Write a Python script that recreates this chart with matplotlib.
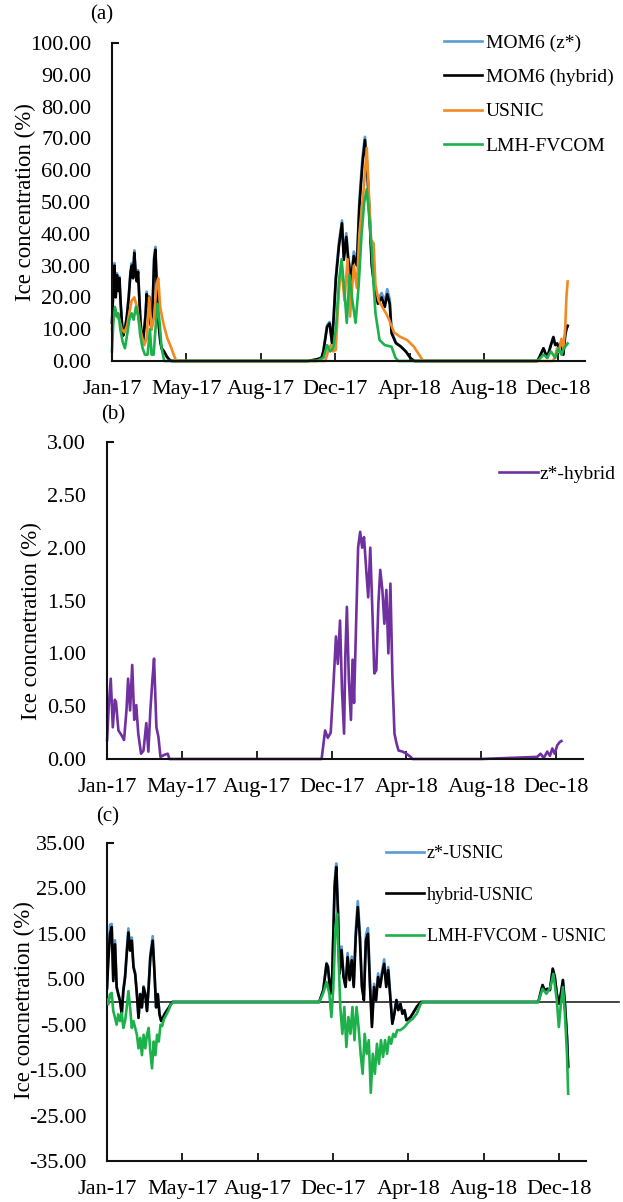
import matplotlib
matplotlib.use("Agg")
import matplotlib.pyplot as plt
import numpy as np
import pandas as pd

plt.rcParams['font.family'] = ['Liberation Serif', 'DejaVu Serif']

START = pd.Timestamp('2017-01-01')
tick_days = [0, 120, 240, 360, 480, 600, 720]
x_max_day = 763

# ---------------- Panel (a): ice concentration (%) ----------------
a_hyb_days = [0, 2, 4, 6, 8, 10, 12, 14, 16, 18, 21, 24, 27, 30, 32, 34, 36, 38, 40, 42, 44, 46, 48,
              50, 52, 54, 56, 58, 60, 62, 64, 66, 68, 70, 72, 74, 76, 78, 80, 84, 88, 92, 96,
              200, 316, 330, 338, 341, 347, 351, 355, 358, 361, 366, 371, 374, 378, 381, 386, 390,
              395, 399, 404, 408, 412, 416, 419, 424, 429, 435, 440, 444, 448, 451, 458, 466, 474,
              482, 488, 600, 686, 689, 696, 702, 708, 712, 715, 718, 721, 725, 728, 731, 733, 735]
a_hybrid = [12, 22, 30, 20, 27, 22, 26, 18, 12, 8, 10, 14, 20, 28, 30, 26, 34, 28, 25, 28, 20, 12, 8,
            6, 10, 14, 21, 17, 20, 12, 10, 20, 32, 35, 25, 15, 10, 6, 4, 3, 1.5, 0.5, 0,
            0, 0, 0.5, 1, 3, 10.8, 11.8, 5.6, 15, 25.5, 36, 43.3, 31.8, 39, 31.8, 25.5, 33,
            30, 48.5, 62, 69.5, 59, 43, 30, 22, 18, 20, 17, 21, 18, 8.7, 5.6, 4.5, 3,
            0.8, 0, 0, 0, 1, 4, 1, 5, 7.5, 5, 5.5, 4, 6, 2, 8, 10, 11]
a_zstar = [12.2, 22.5, 30.8, 20.3, 27.6, 22.4, 26.5, 18.3, 12.2, 8.1, 10.2, 14.4, 20.6, 28.7, 30.8, 26.5, 34.8, 28.5, 25.3, 28.6, 20.4, 12.2, 8.1,
           6.1, 10.3, 14.5, 21.8, 17.3, 20.4, 12.2, 10.2, 20.6, 32.8, 35.9, 25.4, 15.2, 10.1, 6.1, 4, 3, 1.5, 0.5, 0,
           0, 0, 0.5, 1, 3.2, 11.2, 12.3, 5.8, 15.8, 26.5, 37.2, 44.2, 32.8, 40.2, 33, 26.2, 34.4,
           31.2, 50.5, 64, 70.5, 60.5, 44.5, 31.2, 23.3, 19.4, 21.4, 18.6, 22.6, 19.4, 9.3, 5.8, 4.6, 3,
           0.8, 0, 0, 0, 1, 4, 1, 5.1, 7.6, 5.1, 5.6, 4.1, 6.1, 2.1, 8.1, 10.1, 11.2]
a_usnic_days = [0, 3.8, 8, 11.8, 15.6, 19.9, 24.2, 27.9, 31.7, 36, 40.3, 44, 47.8, 52, 55.8, 60, 63.8,
                68.1, 71.9, 74.6, 77.8, 81.6, 85.3, 89.6, 93.9, 97.7, 101.4, 104,
                200, 344, 350, 353, 357, 361, 366, 370, 375, 380, 384, 390, 395,
                399, 406, 411, 415, 418, 422, 425, 430, 436, 442, 447, 455, 465,
                476, 487, 494, 502, 600, 711, 714, 718, 721, 725, 728, 731, 733, 735]
a_usnic = [10, 15, 14, 13, 10, 9, 11, 15, 19, 20, 17, 12, 8, 5, 7, 20, 10,
           14, 24, 26, 17, 13, 10, 7, 5, 3, 1, 0,
           0, 0, 4, 5, 3, 3.5, 22, 30, 19, 32, 14, 30, 23,
           40, 54, 67, 50, 38, 37, 24, 19, 17, 15, 13, 9, 7.6,
           6.6, 4.5, 2.4, 0, 0, 0, 1, 4, 3, 7, 4, 10, 20, 25]
a_fvcom_days = [0, 2.1, 4.8, 8, 10.2, 13.4, 17.2, 20.9, 24.2, 27.9, 31.7, 34.9, 38.6, 42.4, 45.6,
                49.4, 53.1, 57.4, 61.2, 63.8, 67.1, 70.9, 73.5, 76.8, 80, 84.3,
                200, 330, 341, 347, 352, 357, 362, 366, 370.4, 374.9, 378.7, 383.3, 387.8, 392.9,
                398, 402.6, 407, 411, 415, 418.7, 422, 425, 431.6, 440, 450.9, 457.3, 462,
                600, 686, 689, 696, 702, 708, 715, 720, 725, 729, 733, 735]
a_fvcom = [3, 12, 17, 14, 15, 10, 6, 4, 8, 13, 15, 13, 17, 14, 8,
           4, 2, 2, 10, 2, 2, 12, 18, 12, 4, 0,
           0, 0, 1, 5, 3, 4, 12, 25, 32, 22, 12, 27, 19, 12,
           24, 40, 50, 54, 45, 36, 24, 15, 6.6, 5, 4.5, 1, 0,
           0, 0, 0.5, 2, 1, 3, 1, 4, 2, 4, 5, 5.5]
a_labels = ['MOM6 (z*)', 'MOM6 (hybrid)', 'USNIC', 'LMH-FVCOM']
a_yticks = np.arange(0, 101, 10)

# ---------------- Panel (b): z* - hybrid ----------------
b_days = [0.2, 2.8, 6, 9.3, 12.5, 14.4, 18.3, 22.8, 27.3, 31.2, 33.8, 37, 40.4, 43.7, 46.9, 50.1,
          54.6, 58.5, 63, 66.3, 69.5, 72.8, 75.4, 79.2, 82.4, 85.7, 92.2, 97.4, 100,
          200, 344, 349.6, 354, 358.6, 362.5, 367, 370, 373.5, 376.7, 380, 382, 384.5, 387.7,
          391, 393.6, 396, 399.3, 402.5, 405.8, 409, 412, 415.5, 418.7, 422, 425, 428.5,
          431.7, 435, 438, 441.4, 444.6, 447.8, 451, 454.3, 457.5, 460.8, 464, 467.3, 473.7,
          480, 486.7, 490, 600, 689.5, 695, 700, 705.7, 710, 713.8, 717.5, 721.8, 725.7, 728.4]
b_zhyb = [0.18, 0.5, 0.76, 0.3, 0.56, 0.54, 0.27, 0.23, 0.18, 0.46, 0.76, 0.46, 0.89, 0.37, 0.51, 0.24,
          0.05, 0.08, 0.34, 0.07, 0.46, 0.75, 0.95, 0.3, 0.21, 0.02, 0.04, 0.05, 0,
          0, 0, 0.27, 0.2, 0.25, 0.65, 1.16, 0.9, 1.31, 0.65, 0.24, 0.97, 1.44, 0.75,
          0.37, 0.94, 0.53, 1.28, 2.0, 2.15, 2.0, 2.1, 1.79, 1.53, 2.0, 1.47, 0.81,
          0.84, 1.47, 1.79, 1.6, 1.28, 1.6, 1.0, 1.66, 0.78, 0.24, 0.15, 0.08, 0.07,
          0.05, 0.02, 0, 0, 0.02, 0.05, 0.01, 0.07, 0.03, 0.1, 0.05, 0.13, 0.16, 0.17]
b_labels = ['z*-hybrid']
b_yticks = np.arange(0, 3.01, 0.5)

# ---------------- Panel (c): differences ----------------
c_hyb_days = [0, 2.1, 4.8, 7.5, 10, 12.8, 15.4, 18, 20.8, 23.5, 26, 28.8, 31.4, 34.1, 36.8, 39.5,
              42.2, 44.9, 47.6, 50.2, 52.9, 55.6, 58.3, 61, 63.7, 66.3, 69, 72.8, 75.5, 78.2,
              80.9, 83.6, 86.3, 89, 91.7, 94.9, 98.7, 101.4, 104,
              200, 338, 344.5, 349.7, 351.9, 356, 358.7, 362.6, 365.2, 367.8, 370.4, 373.6, 376.8,
              380, 383.3, 386.5, 389.8, 393, 396.2, 399.5, 402.7, 406, 409.2, 412.4, 415.7, 419,
              422, 425.4, 428.6, 431.8, 435, 438.3, 441.5, 444.8, 448, 451.2, 454.5, 457.7, 461,
              464, 467.4, 470.6, 473.9, 477, 480.4, 483.6, 486.8, 493.3, 499.8,
              600, 687, 693.8, 697, 701.6, 705.5, 710, 713.3, 716.5, 719.7, 723, 726.2, 729.4,
              732.7, 734.6]
c_hybrid = [3, 9.2, 15, 16.5, 4.6, 12.7, 3.2, 1.7, 0.2, -2.7, 2.4, 5.4, 10.5, 15.3, 11.3, 13.5,
            7.6, 6.1, 1.7, -3.5, 1.7, -1.2, 3.2, 1.7, -2, 3.2, 9.8, 13.5, 6.8, -1.2,
            1.7, -2.7, -4.2, -3.5, -2.7, -2, -1.2, -0.5, 0,
            0, 0, 2.6, 8.4, 7.7, 1.8, 5.5, 25.3, 29.7, 20.2, 6.2, 11.4, 5.5,
            3.3, 9.9, 4.8, 9.2, 3.3, 14.3, 20.9, 14.3, 3.3, 0.4, 13.6, 15, 3.3,
            -5.5, 3.3, 0.4, 5.5, 3.3, 6.2, 8.4, 3.3, 7, 1.1, -4.8, -2.6, 0.4,
            -1.8, -0.4, -2.6, -1.8, -4, -3.7, -3.3, -2.6, -1.1, 0,
            0, 0, 3.7, 2.6, 2.9, 2.6, 7.3, 5.5, 1.8, -0.4, 1.8, 4.8, -0.4,
            -7.7, -14.3]
c_zstar = [3.2, 10, 17, 17.2, 5, 13.6, 3.4, 1.8, 0.3, -2.6, 2.7, 5.9, 11.3, 16.2, 11.8, 14.2,
           8, 6.4, 1.9, -3.4, 1.8, -1.1, 3.5, 1.8, -1.9, 3.4, 10.4, 14.5, 7.1, -1.1,
           1.8, -2.6, -4.1, -3.4, -2.6, -1.9, -1.2, -0.5, 0,
           0, 0, 2.7, 8.6, 7.9, 1.9, 5.8, 26.5, 30.5, 21, 6.6, 12.2, 5.9,
           3.4, 10.8, 5.2, 10, 3.6, 15.8, 22.2, 15.5, 4, 1.2, 14.8, 16.3, 4.2,
           -4.8, 4, 1, 6.3, 3.9, 6.9, 9.4, 3.9, 7.7, 1.5, -4.5, -2.4, 0.5,
           -1.7, -0.3, -2.6, -1.8, -4, -3.7, -3.3, -2.6, -1.1, 0,
           0, 0, 3.8, 2.6, 2.9, 2.7, 7.4, 5.6, 1.9, -0.3, 1.9, 4.9, -0.3,
           -7.6, -14.1]
c_fvcom_days = [0, 2.1, 4.8, 7.5, 10, 12.8, 15.4, 18, 20.8, 23.5, 26, 28.8, 31.4, 34.1, 36.8, 39.5,
                42.2, 44.9, 47.6, 50.2, 52.9, 55.6, 58.3, 61, 63.7, 66.3, 69, 71.7, 74.4, 77.1,
                79.8, 82.5, 85.2, 87.9, 90.6, 94.9, 98.7, 101.4, 105.7,
                200, 338, 344.5, 349.7, 354.2, 357.4, 360.6, 363.9, 366.5, 369, 371.6, 374.9, 378,
                381.3, 384.5, 387.8, 391, 394.2, 397.5, 400.7, 404, 407.2, 410.4, 413.6, 417,
                420.2, 423.4, 426.7, 430, 433.2, 436.4, 439.7, 442.9, 446.1, 449.4, 452.6, 455.9,
                459, 462.3, 467.4, 473.9, 480.4, 486.8, 493.3, 499.8, 503,
                600, 687, 693.8, 700, 706.5, 711, 716.5, 719.7, 723, 726.2, 729.4, 732.7, 734.6]
c_fvcom = [0.5, -0.5, 1.7, 2, -2, -3.5, -5, -2.7, -4.2, -2.4, -5.7, -4.2, -1.2, 2.4, -1.2, -5.7,
           -4.2, -5.7, -7.2, -10.2, -7.9, -11.7, -7.2, -10.2, -7.2, -5.7, -10.9, -14.6, -8.7, -11.7,
           -7.2, -8.7, -5, -5.3, -3.8, -2.7, -1.6, -0.6, 0,
           0, 0, 2, 4.4, 1.8, -3.3, 3.3, 16.5, 19.4, 9.2, -1.1, -7, -1.1,
           -9.9, -3.3, -7, -1.1, -8.4, -1.1, -5.5, -11.4, -15.8, -7, -11.4, -8.4,
           -20, -11.4, -15.8, -9.2, -13.6, -8.4, -12.1, -8.4, -11.4, -7.7, -9.2, -7,
           -7.7, -6.2, -6.2, -5.5, -4.4, -3.7, -2.6, -0.4, 0,
           0, 0, 2.9, 1.8, 3.3, 6.2, 0.4, -5.5, -0.4, 3.3, -2.6, -11.4, -20.2]
c_labels = ['z*-USNIC', 'hybrid-USNIC', 'LMH-FVCOM - USNIC']
c_yticks = np.arange(-35, 36, 10)

C_BLUE = '#5B9BD5'
C_BLACK = '#000000'
C_ORANGE = '#F28A24'
C_GREEN = '#1DB14B'
C_PURPLE = '#7030A0'

W, H = 623, 1202
fig = plt.figure(figsize=(W / 100, H / 100), dpi=100)


def dates(days):
    return START + pd.to_timedelta(np.asarray(days, dtype=float), unit='D')


def box(l, r, t, b):
    return [l / W, 1 - b / H, (r - l) / W, (b - t) / H]


def style(ax, yticks, fmt):
    ax.set_xlim(dates([0])[0], dates([x_max_day])[0])
    tdates = dates(tick_days)
    ax.set_xticks(tdates)
    ax.set_xticklabels([d.strftime('%b-%y') for d in tdates])
    ax.set_yticks(yticks)
    ax.set_yticklabels([fmt % v for v in yticks])
    ax.set_ylim(yticks[0], yticks[-1])
    for s in ('top', 'right'):
        ax.spines[s].set_visible(False)
    for s in ('left', 'bottom'):
        ax.spines[s].set_linewidth(1.5)
        ax.spines[s].set_color('#111111')
    ax.tick_params(axis='x', direction='in', length=6, width=1.3, pad=14,
                   labelsize=16, color='#111111')
    ax.tick_params(axis='y', length=0, pad=15, labelsize=16)
    ax.plot([0, 0.015], [1, 1], transform=ax.transAxes, color='#111111', lw=1.5,
            clip_on=False, solid_capstyle='butt')


LW = 1.9
# (a)
ax1 = fig.add_axes(box(112, 585, 43, 361))
style(ax1, a_yticks, '%.2f')
l1, = ax1.plot(dates(a_hyb_days), a_zstar, color=C_BLUE, lw=LW, clip_on=False)
l2, = ax1.plot(dates(a_hyb_days), a_hybrid, color=C_BLACK, lw=LW, clip_on=False)
l3, = ax1.plot(dates(a_usnic_days), a_usnic, color=C_ORANGE, lw=LW, clip_on=False)
l4, = ax1.plot(dates(a_fvcom_days), a_fvcom, color=C_GREEN, lw=LW, clip_on=False)
ax1.legend([l1, l2, l3, l4], a_labels, loc='upper left',
           bbox_to_anchor=(444 / W, 1 - 34 / H), bbox_transform=fig.transFigure,
           frameon=False, fontsize=14, handlelength=1.95, handletextpad=0.2,
           labelspacing=0.86, borderpad=0, borderaxespad=0)

# (b)
ax2 = fig.add_axes(box(107, 583, 442, 759))
style(ax2, b_yticks, '%.2f')
m1, = ax2.plot(dates(b_days), b_zhyb, color=C_PURPLE, lw=LW, clip_on=False)
ax2.legend([m1], b_labels, loc='upper left',
           bbox_to_anchor=(499 / W, 1 - 465 / H), bbox_transform=fig.transFigure,
           frameon=False, fontsize=14, handlelength=2.0, handletextpad=0.1,
           borderpad=0, borderaxespad=0)

# (c)
ax3 = fig.add_axes(box(107, 586, 843, 1161))
style(ax3, c_yticks, '%.2f')
ax3.axhline(0, xmin=0, xmax=(619 - 107) / (586 - 107), color='#222222', lw=1.2,
            clip_on=False, zorder=1)
n1, = ax3.plot(dates(c_hyb_days), c_zstar, color=C_BLUE, lw=LW, zorder=2)
n2, = ax3.plot(dates(c_hyb_days), c_hybrid, color=C_BLACK, lw=LW, zorder=3)
n3, = ax3.plot(dates(c_fvcom_days), c_fvcom, color=C_GREEN, lw=LW, zorder=4)
ax3.legend([n1, n2, n3], c_labels, loc='upper left',
           bbox_to_anchor=(386 / W, 1 - 845 / H), bbox_transform=fig.transFigure,
           frameon=False, fontsize=13, handlelength=2.1, handletextpad=0.15,
           labelspacing=1.37, borderpad=0, borderaxespad=0)

# y labels and panel tags
fig.text(25 / W, 1 - 202 / H, 'Ice concentration (%)', rotation=90, ha='center', va='center', fontsize=16.5)
fig.text(31 / W, 1 - 621 / H, 'Ice concnetration (%)', rotation=90, ha='center', va='center', fontsize=16.5)
fig.text(24 / W, 1 - 1000 / H, 'Ice concnetration (%)', rotation=90, ha='center', va='center', fontsize=16.5)
fig.text(102 / W, 1 - 15 / H, '(a)', ha='center', va='center', fontsize=15)
fig.text(113 / W, 1 - 415 / H, '(b)', ha='center', va='center', fontsize=15)
fig.text(108 / W, 1 - 817 / H, '(c)', ha='center', va='center', fontsize=15)

fig.savefig('out.png', dpi=100)
